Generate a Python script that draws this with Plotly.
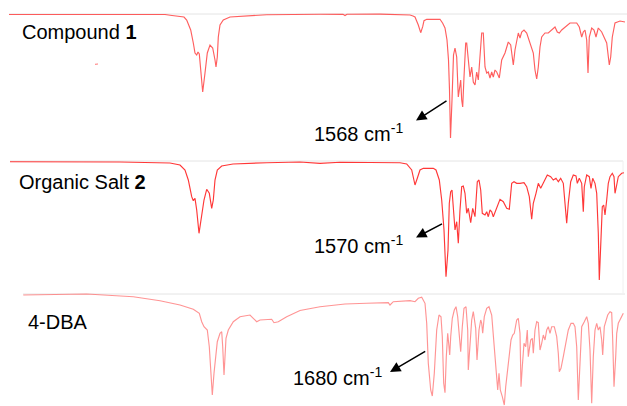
import plotly.graph_objects as go

# ---- Data (position along trace, signal level on the page scale) ----
c1_x = [9, 60, 120, 165, 172, 180, 184, 186.7, 190.7, 193.3, 195, 196.7, 198, 199.3, 200.7, 202.7, 205, 207.3, 210, 212.7, 215, 216, 217.3, 218.3, 220, 223.3, 230, 246.7, 266.7, 320, 343, 345, 347, 380, 405, 410, 413, 415, 418.3, 420.7, 422.7, 424, 426.7, 440, 442.7, 445, 447, 448.5, 449.5, 450.5, 452, 453.5, 455, 456.7, 458.3, 459.3, 460.7, 461.7, 462.7, 464, 465.7, 466.7, 468.3, 470, 471.7, 473.3, 475, 476.7, 478.3, 480, 481.7, 483.3, 485, 486.7, 488.3, 490, 491.7, 493.3, 495, 496.7, 499.3, 501.7, 505, 508.3, 510.7, 513.3, 515, 518.3, 520, 521.7, 524, 526.7, 530, 533.3, 535, 536.7, 538.3, 540, 541.7, 545, 548.3, 551.7, 555, 557.3, 559.3, 561.7, 565, 570, 576.7, 579.3, 581.7, 583.3, 585, 586.7, 588, 589.3, 591.7, 594, 596, 598.3, 601.7, 604, 606.7, 609.3, 610.7, 612.3, 615, 620, 625]
c1_y = [14.5, 14.3, 14.2, 14.5, 15.5, 16, 17, 20, 30, 43, 53, 55, 52, 54, 67, 92, 73, 53, 45, 48, 60, 67, 57, 37, 25, 20, 17, 16, 14.7, 14.3, 14.3, 15.5, 14.3, 14.2, 14.3, 15, 16, 17, 25, 32.7, 26.7, 20.7, 19.3, 19.3, 23.3, 28, 40, 60, 90, 138, 100, 55, 48, 57, 97, 87, 80, 100, 107, 77, 43, 43, 60, 77, 67, 82, 85, 72, 80, 50, 33, 33, 67, 73, 72, 78, 72, 77, 70, 72, 78, 60, 53, 42, 45, 65, 50, 33, 38, 32, 30, 33, 43, 53, 70, 79, 67, 47, 37, 33, 33, 30, 27, 32, 33, 30, 27, 23, 23, 27, 37, 32, 30, 40, 73, 37, 28, 30, 37, 28, 32, 37, 43, 65, 57, 37, 23, 21, 22]

s2_x = [10, 60, 120, 170, 180, 185, 188.3, 191.7, 193.3, 195, 196.7, 199, 201.7, 204, 206.7, 209.3, 211.7, 213.3, 215, 217.3, 221.7, 233, 266.7, 300, 320, 340, 400, 406.7, 411.7, 415, 417.3, 420, 423.3, 433.3, 436, 439.3, 441.7, 444, 446, 448, 449.3, 450.7, 452, 453.3, 455, 456.7, 458.3, 460, 461.7, 463.3, 465, 466.7, 468.3, 470.7, 472.7, 475, 477.3, 479, 480.7, 482.3, 485, 486.7, 488.3, 490, 491.7, 493.3, 496.7, 500, 503.3, 506.7, 509.3, 511.7, 514, 516.7, 520, 524, 526.7, 529.3, 531.7, 533.3, 536, 538.3, 540.7, 543.3, 547.3, 550.7, 553.3, 556, 558.3, 560.7, 563.3, 565, 566.7, 568.3, 570.7, 573.3, 576, 577.3, 579.3, 581.7, 583.3, 584.3, 586.7, 589.3, 591, 592.7, 595, 596.7, 598.3, 599.3, 601, 602.3, 603.7, 605, 606.7, 608.3, 610, 612.3, 614, 615, 616.7, 618.3, 621.7, 624]
s2_y = [161.7, 161.8, 162, 163, 165, 170, 180, 196.7, 200.7, 198.3, 210, 233.3, 216.7, 200, 189.3, 193.3, 208.3, 200, 180, 170, 166, 164, 162.7, 162, 163.3, 162.3, 162.7, 164, 170, 185, 178.3, 170, 168.3, 168.3, 170, 180, 200, 230, 276.7, 250, 203.3, 191.7, 190, 206.7, 230, 221.7, 243.3, 210, 186.7, 186, 193.3, 213.3, 208.3, 222.7, 208.3, 216.7, 181.7, 180, 190, 213.3, 215, 211.7, 216.7, 210, 211.7, 216.7, 206.7, 199.3, 201.7, 208.3, 209.3, 183.3, 181.7, 183.3, 183.3, 182.7, 186.7, 196.7, 219.3, 203.3, 193.3, 183.3, 188.3, 183.3, 175, 176.7, 180, 178.3, 181.7, 178.3, 183.3, 203.3, 223.3, 203.3, 181.7, 175, 176, 183.3, 178.3, 183.3, 211.7, 186.7, 175, 176.7, 188.3, 178.3, 183.3, 193.3, 233.3, 280, 243.3, 206.7, 205, 215, 200, 183.3, 176.7, 173.3, 176.7, 193.3, 185, 176.7, 173.3, 172.7]

dba_x = [23.3, 86.7, 133.3, 160, 180, 193.3, 199.3, 201.7, 204, 207.3, 209.3, 211, 212.3, 214, 215.7, 217.3, 220, 221.7, 222.7, 224, 225, 226, 228.3, 233.3, 240, 245, 250, 253.3, 256.7, 260, 266.7, 271.7, 274, 278.3, 286.7, 300, 320, 345, 366.7, 388.3, 390, 393.3, 410, 415, 418.3, 421.7, 425, 426.7, 428.3, 430.7, 432.3, 434.3, 436.7, 439, 441, 442.3, 443.7, 445, 446.3, 447.7, 449, 449.7, 450.7, 452.3, 454.3, 456, 457.7, 459, 460.7, 462.3, 464, 466, 467.7, 468.3, 469.3, 471.7, 473.3, 475.7, 477, 479, 480.7, 481.7, 482.7, 484.3, 486.7, 489, 491.7, 493.3, 495, 496.7, 497.7, 499, 500.3, 502.3, 504.3, 505.7, 507.7, 509.3, 511, 512.7, 514.3, 516.7, 518.3, 520, 521, 522.3, 524, 525.7, 527.3, 528.3, 529.3, 530.7, 532.3, 533.3, 535, 536.7, 538.3, 540, 541.7, 543.3, 545, 546.7, 548.3, 550, 551.7, 554.3, 556.7, 558.3, 559.3, 561, 563.3, 565, 566.7, 568.3, 571, 573.3, 575, 576.7, 578.3, 580, 581.7, 584.3, 586.7, 588.3, 590, 591.7, 593.3, 595, 596.7, 598.3, 600, 601.7, 602.7, 604.3, 605.7, 607.7, 610, 611.7, 612.7, 614, 615.7, 616.7, 618.3, 620, 621.7, 623.3]
dba_y = [295, 294, 296.7, 300.7, 305, 309.3, 313.3, 321.7, 326.7, 330, 346.7, 370, 395, 373.3, 353.3, 341.7, 333.3, 331.7, 346.7, 375, 356.7, 338.3, 330, 321.7, 316.7, 316, 315, 318.3, 321.7, 320, 319.3, 319.3, 322.7, 321.7, 316.7, 310.5, 306.7, 304, 303.3, 302.7, 305, 301.7, 300.7, 301.7, 298.3, 297.3, 303.3, 323.3, 363.3, 390, 396, 373.3, 330, 315, 316.7, 336.7, 383.3, 392.7, 356.7, 333.3, 346.7, 355, 336.7, 318.3, 310, 306.7, 316.7, 333.3, 351.7, 326.7, 308.3, 306.7, 330, 370, 356.7, 320, 311.7, 328.3, 360, 330, 320, 323.3, 333.3, 316.7, 308.3, 306.7, 315, 336.7, 351.7, 383.3, 390, 373.3, 390, 396.7, 405, 386.7, 366.7, 350, 340, 335, 333.3, 320, 318.3, 333.3, 386.7, 366.7, 343.3, 346.7, 330, 356.7, 348.3, 340, 338.3, 353.3, 330, 321.7, 322.7, 350, 343.3, 335, 340, 330, 326.7, 333.3, 326.7, 326.7, 336.7, 353.3, 371.7, 368.3, 356.7, 348.3, 340, 330, 323.3, 323.3, 326.7, 346.7, 400, 356.7, 326.7, 321.7, 316.7, 323.3, 350, 403.3, 356.7, 330, 323.3, 330, 326.7, 340, 355, 326.7, 321.7, 315, 311.7, 312.7, 340, 386.7, 356.7, 333.3, 323.3, 320, 316.7, 313.3]

stray_x = [95, 98]
stray_y = [64.3, 64]

labels = ["Compound <b>1</b>", "Organic Salt <b>2</b>", "4-DBA"]
label_x = [20, 17, 26]
label_y = [32, 182, 322]

peak_labels = ["1568 cm<sup>-1</sup>", "1570 cm<sup>-1</sup>", "1680 cm<sup>-1</sup>"]
peak_label_x = [312, 312, 291]
peak_label_y = [132, 244, 376]
arrow_tail = [(448, 100), (443.5, 223), (426.7, 350.5)]
arrow_head = [(416, 120.5), (416, 237.5), (390, 372)]

frame_h = [(9, 627, 14), (10, 623, 161), (23, 625, 294)]
frame_v = [(623, 161, 293)]

fig = go.Figure()

# frame lines (behind)
for x0, x1, yy in frame_h:
    fig.add_trace(go.Scatter(x=[x0, x1], y=[yy, yy], mode="lines",
                             line=dict(color="#e4e4e4", width=1), hoverinfo="skip"))
for xx, y0, y1 in frame_v:
    fig.add_trace(go.Scatter(x=[xx, xx], y=[y0, y1], mode="lines",
                             line=dict(color="#f0f0f0", width=1), hoverinfo="skip"))

fig.add_trace(go.Scatter(x=c1_x, y=c1_y, mode="lines",
                         line=dict(color="rgba(255,40,40,0.75)", width=1.15)))
fig.add_trace(go.Scatter(x=s2_x, y=s2_y, mode="lines",
                         line=dict(color="rgba(255,20,20,0.85)", width=1.15)))
fig.add_trace(go.Scatter(x=dba_x, y=dba_y, mode="lines",
                         line=dict(color="rgba(255,90,90,0.65)", width=1.15)))
fig.add_trace(go.Scatter(x=stray_x, y=stray_y, mode="lines",
                         line=dict(color="rgba(255,60,60,0.7)", width=1)))

font = dict(family="Liberation Sans, Arial, sans-serif", size=20, color="black")
for t, x, y in zip(labels, label_x, label_y):
    fig.add_annotation(x=x, y=y, text=t, showarrow=False, xanchor="left",
                       yanchor="middle", font=font, xref="x", yref="y")
for t, x, y in zip(peak_labels, peak_label_x, peak_label_y):
    fig.add_annotation(x=x, y=y, text=t, showarrow=False, xanchor="left",
                       yanchor="middle", font=font, xref="x", yref="y")
for (tx, ty), (hx, hy) in zip(arrow_tail, arrow_head):
    fig.add_annotation(x=hx, y=hy, ax=tx, ay=ty, axref="x", ayref="y",
                       xref="x", yref="y", text="", showarrow=True,
                       arrowhead=2, arrowsize=1.4, arrowwidth=1.5,
                       arrowcolor="black", standoff=0, startstandoff=0)

fig.update_layout(
    width=627, height=406,
    margin=dict(l=0, r=0, t=0, b=0),
    paper_bgcolor="white", plot_bgcolor="white",
    showlegend=False,
    xaxis=dict(range=[0, 627], visible=False, fixedrange=True),
    yaxis=dict(range=[406, 0], visible=False, fixedrange=True),
)

fig.write_html("out.html")
